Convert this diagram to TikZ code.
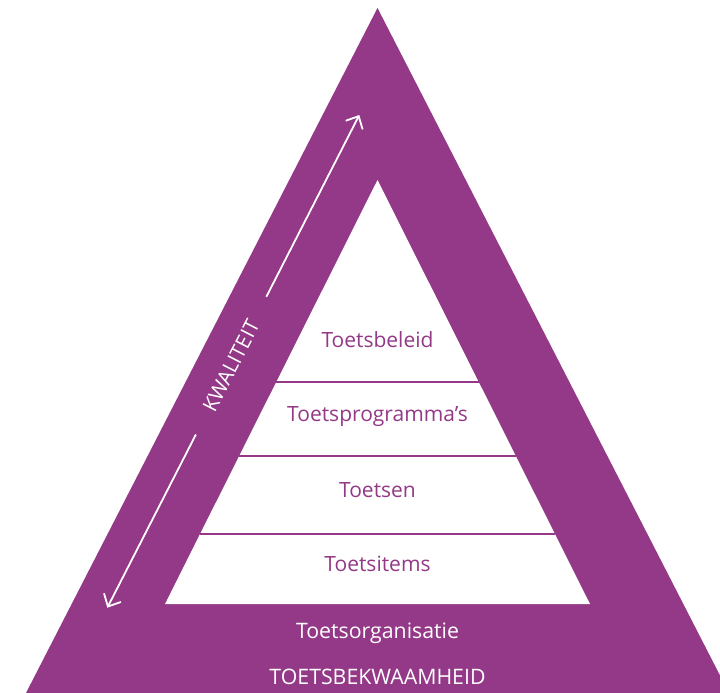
\documentclass[tikz,border=0pt]{standalone}
\usepackage{fontspec}
\setmainfont{Open Sans}
\usetikzlibrary{arrows.meta,calc}
\definecolor{paars}{RGB}{147,57,135}
\begin{document}
\begin{tikzpicture}[x=1pt,y=-1pt,
  lbl/.style={text=paars,font=\fontsize{21}{24}\selectfont,anchor=base,inner sep=0pt},
  wlbl/.style={text=white,font=\fontsize{21.3}{24}\selectfont,anchor=base,inner sep=0pt},
  band/.style={draw=paars,line width=2.2pt},
  arr/.style={draw=white,line width=1.8pt,-{Straight Barb[length=10pt,width=19pt,line width=1.8pt]}}]
\useasboundingbox (0,0) rectangle (720,693);
\begin{scope}
\clip (0,0) rectangle (720,693);
\fill[paars] (377.5,8) -- (26,693) -- (729,693) -- cycle;
\end{scope}
\fill[white] (377.5,180) -- (165,604) -- (590,604) -- cycle;
% band lines
\coordinate (l1) at (276.1,382.3); \coordinate (r1) at (478.9,382.3);
\coordinate (l2) at (239.2,456); \coordinate (r2) at (515.8,456);
\coordinate (l3) at (200.1,534); \coordinate (r3) at (554.9,534);
\draw[band] (l1) -- (r1);
\draw[band] (l2) -- (r2);
\draw[band] (l3) -- (r3);
% labels
\node[lbl] (t1) at (377.5,347.3) {Toetsbeleid};
\node[lbl] (t2) at (377.5,421.7) {Toetsprogramma’s};
\node[lbl] (t3) at (377.5,497.5) {Toetsen};
\node[lbl] (t4) at (377.5,571.3) {Toetsitems};
\node[wlbl] (t5) at (377.5,638.3) {Toetsorganisatie};
\node[wlbl] (t6) at (377.5,684) {TOETSBEKWAAMHEID};
% quality arrow
\coordinate (a) at (107.3,607.7);
\coordinate (b) at (359.3,115);
\coordinate (g1) at ($(a)!0.3515!(b)$);
\coordinate (g2) at ($(a)!0.631!(b)$);
\draw[arr] (g1) -- (a);
\draw[arr] (g2) -- (b);
\node[text=white,font=\fontsize{20.5}{24}\selectfont,rotate=62.9,inner sep=0pt] (kw) at ($(a)!0.491!(b)$) {KWALITEIT};
\end{tikzpicture}
\end{document}
